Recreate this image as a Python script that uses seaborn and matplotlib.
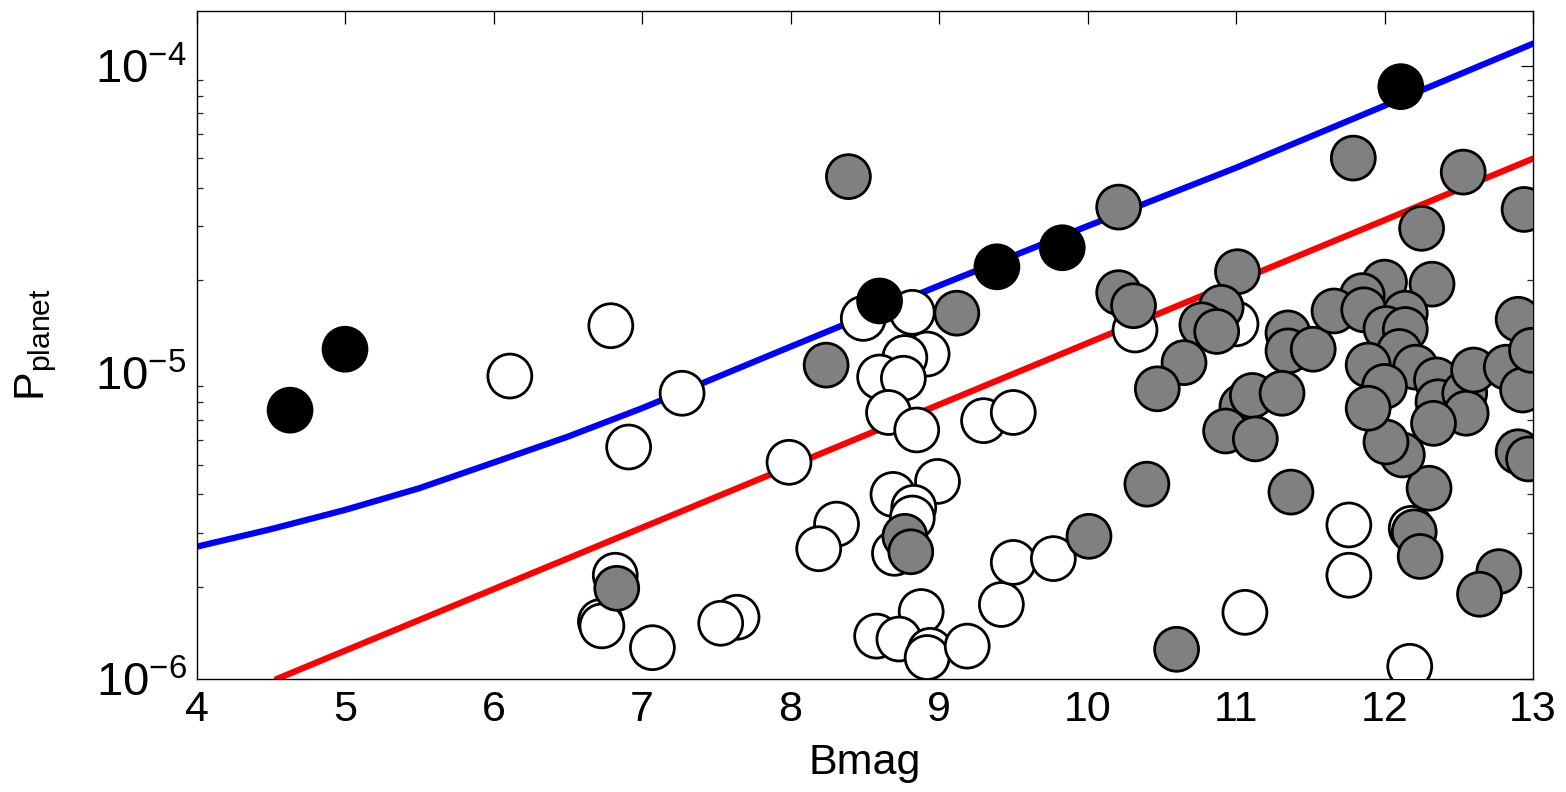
import numpy as np
import pandas as pd
import matplotlib
matplotlib.use("Agg")
import matplotlib.pyplot as plt
import seaborn as sns

# ---------------- data ----------------
open_B = [6.79, 6.11, 7.27, 6.91, 7.99, 8.49, 8.82, 8.92, 8.77, 8.60, 8.76, 8.66,
          8.85, 9.30, 9.50, 8.69, 8.99, 8.83, 8.82, 8.70, 8.31, 8.19, 6.82, 6.72,
          6.73, 7.07, 7.64, 7.53, 8.88, 8.58, 8.73, 8.94, 8.92, 9.19, 9.42, 9.50,
          9.77, 10.32, 11.00, 11.06, 11.76, 11.76, 12.18, 12.17]
open_P = [1.42e-5, 9.73e-6, 8.55e-6, 5.71e-6, 5.09e-6, 1.50e-5, 1.57e-5, 1.148e-5,
          1.118e-5, 9.66e-6, 9.57e-6, 7.40e-6, 6.49e-6, 6.96e-6, 7.40e-6, 4.00e-6,
          4.41e-6, 3.63e-6, 3.35e-6, 2.57e-6, 3.20e-6, 2.66e-6, 2.18e-6, 1.54e-6,
          1.49e-6, 1.265e-6, 1.59e-6, 1.52e-6, 1.66e-6, 1.38e-6, 1.35e-6, 1.24e-6,
          1.175e-6, 1.28e-6, 1.75e-6, 2.40e-6, 2.47e-6, 1.375e-5, 1.44e-5, 1.65e-6,
          3.18e-6, 2.18e-6, 3.10e-6, 1.10e-6]

gray_B = [6.83, 8.24, 8.39, 9.12, 8.77, 8.81, 10.01, 10.40, 10.60, 11.37, 12.20,
          12.24, 12.30, 12.77, 12.64, 12.12, 12.01, 12.90, 12.97, 10.21, 11.79,
          12.53, 12.25, 12.94, 11.01, 12.00, 12.32, 11.85, 10.21, 10.31, 10.90,
          10.77, 10.87, 10.65, 10.47, 11.35, 11.35, 11.52, 11.66, 11.86, 12.14,
          12.01, 12.14, 12.10, 12.21, 11.89, 12.00, 11.89, 12.35, 12.36, 12.54,
          12.55, 12.60, 12.82, 12.93, 12.90, 12.99, 12.33, 11.04, 11.11, 11.31,
          10.93, 11.13]
gray_P = [1.976e-6, 1.056e-5, 4.35e-5, 1.56e-5, 2.92e-6, 2.60e-6, 2.92e-6, 4.32e-6,
          1.25e-6, 4.07e-6, 3.02e-6, 2.51e-6, 4.19e-6, 2.24e-6, 1.89e-6, 5.38e-6,
          5.93e-6, 5.51e-6, 5.22e-6, 3.46e-5, 5.00e-5, 4.50e-5, 2.95e-5, 3.40e-5,
          2.13e-5, 1.97e-5, 1.94e-5, 1.78e-5, 1.82e-5, 1.65e-5, 1.63e-5, 1.43e-5,
          1.36e-5, 1.076e-5, 8.84e-6, 1.345e-5, 1.175e-5, 1.19e-5, 1.586e-5, 1.60e-5,
          1.56e-5, 1.39e-5, 1.38e-5, 1.17e-5, 1.04e-5, 1.057e-5, 9.0e-6, 7.64e-6,
          9.45e-6, 8.02e-6, 8.55e-6, 7.36e-6, 1.018e-5, 1.04e-5, 8.76e-6, 1.49e-5,
          1.18e-5, 6.82e-6, 7.74e-6, 8.41e-6, 8.55e-6, 6.44e-6, 6.07e-6]

black_B = [4.63, 5.00, 8.60, 9.39, 9.83, 12.11]
black_P = [7.53e-6, 1.19e-5, 1.71e-5, 2.21e-5, 2.55e-5, 8.55e-5]

blue_B = [4.0, 4.5, 5.0, 5.5, 6.0, 6.5, 7.0, 8.0, 9.0, 10.0, 11.0, 12.0, 13.0]
blue_P = [2.70e-6, 3.08e-6, 3.56e-6, 4.19e-6, 5.08e-6, 6.17e-6, 7.64e-6, 1.213e-5,
          1.918e-5, 3.00e-5, 4.65e-5, 7.41e-5, 1.181e-4]

red_B = [4.54, 13.0]
red_P = [1.0e-6, 4.98e-5]

x_ticks = [4, 5, 6, 7, 8, 9, 10, 11, 12, 13]

# ---------------- styling ----------------
sns.set_theme(style="white")
plt.rcParams["font.family"] = ["Liberation Sans", "DejaVu Sans"]
plt.rcParams["mathtext.fontset"] = "custom"
plt.rcParams["mathtext.rm"] = "Liberation Sans"
plt.rcParams["mathtext.it"] = "Liberation Sans:italic"
plt.rcParams["mathtext.bf"] = "Liberation Sans:bold"

df = pd.DataFrame({
    "Bmag": open_B + gray_B + black_B,
    "P": open_P + gray_P + black_P,
    "group": ["open"] * len(open_B) + ["gray"] * len(gray_B) + ["black"] * len(black_B),
})

fig = plt.figure(figsize=(15.66, 7.92), dpi=100)
ax = fig.add_axes([196.5 / 1566, 1 - 679 / 792, (1533 - 196.5) / 1566, (679 - 11) / 792])

ax.set_yscale("log")
sns.lineplot(x=blue_B, y=blue_P, ax=ax, color="#0000ff", lw=4.5, sort=False,
             estimator=None, zorder=2)
sns.lineplot(x=red_B, y=red_P, ax=ax, color="#ff0000", lw=4.5, sort=False,
             estimator=None, zorder=2)
sns.scatterplot(data=df, x="Bmag", y="P", hue="group",
                palette={"open": "white", "gray": "#808080", "black": "black"},
                s=1000, edgecolor="black", linewidth=2.0, legend=False, ax=ax,
                zorder=3)

ax.set_xlim(4, 13)
ax.set_ylim(1e-6, 1.509e-4)
ax.set_xticks(x_ticks)
ax.set_xticklabels([str(t) for t in x_ticks])
ax.set_yticks([1e-6, 1e-5, 1e-4])

ax.tick_params(axis="both", which="major", direction="in", length=9, width=0.9,
               top=True, right=True, labelsize=31, colors="black", pad=8)
ax.tick_params(axis="y", which="major", labelsize=34, pad=7)
ax.tick_params(axis="y", which="minor", direction="in", length=4.5, width=0.9,
               left=True, right=True)
ax.tick_params(axis="x", which="minor", bottom=False, top=False)

for sp in ax.spines.values():
    sp.set_visible(True)
    sp.set_color("black")
    sp.set_linewidth(1.0)

ax.set_xlabel("Bmag", fontsize=31, labelpad=9, color="black")
ax.set_ylabel(r"P$_{\mathrm{planet}}$", fontsize=31, labelpad=26, color="black")
ax.grid(False)

fig.savefig("out.png", dpi=100, facecolor="white")
